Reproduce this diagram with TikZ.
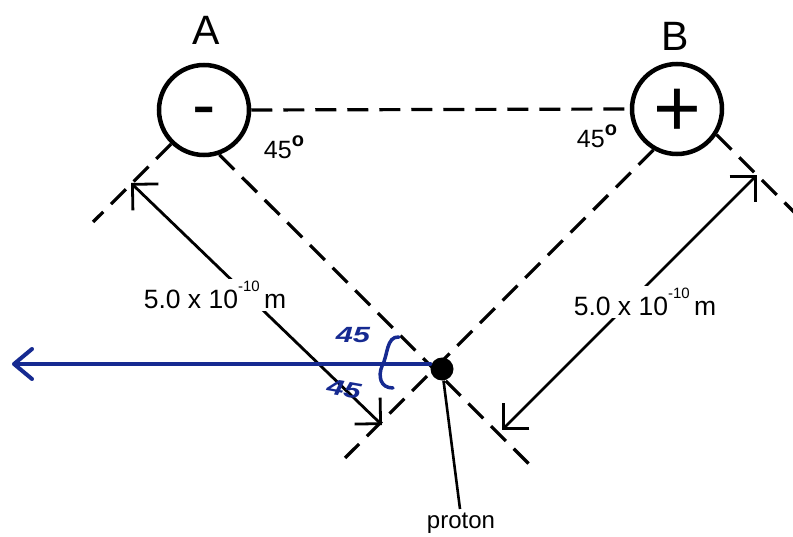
\documentclass[tikz,border=0pt]{standalone}
\usepackage{fontspec}
\setmainfont{Liberation Sans}
\usetikzlibrary{arrows.meta}
\definecolor{ink}{RGB}{22,42,145}
\newcommand\degsign{\raisebox{0.46em}{\fontsize{20}{20}\selectfont\bfseries o}}
\newcommand\dimtext{5.0 x 10\raisebox{0.62em}{\fontsize{15}{15}\selectfont -10}\,m}
\begin{document}
\begin{tikzpicture}[x=1pt,y=-1pt,
  charge/.style={circle,draw,line width=4.5pt,minimum size=90pt,inner sep=0pt},
  sign/.style={anchor=base,inner sep=0pt},
  guide/.style={line width=3.2pt,dash pattern=on 21pt off 11pt},
  dimline/.style={line width=2.8pt,{Straight Barb[angle=90:26pt]}-{Straight Barb[angle=90:26pt]}},
  dimlabel/.style={fill=white,inner sep=2pt,font=\fontsize{26.5}{26.5}\selectfont},
  letter/.style={inner sep=0pt,font=\fontsize{41}{41}\selectfont},
  angle/.style={inner sep=0pt,font=\fontsize{25}{25}\selectfont},
  hand/.style={ink,inner sep=0pt,font=\fontsize{22}{22}\selectfont\bfseries\itshape},
  bluearrow/.style={ink,line width=4pt,line cap=round,-{Straight Barb[length=18pt,width=30pt,line cap=round,line join=round]}}
]
\useasboundingbox (0,0) rectangle (793,537);
% charges
\node[charge] (A) at (204,110) {};
\node[charge] (B) at (677,109) {};
\node[sign,font=\fontsize{70}{70}\selectfont] (minus) at (204,129) {-};
\node[sign,font=\fontsize{82}{82}\selectfont] (plus) at (677,137) {+};
\node[letter] (lA) at (206,30) {A};
\node[letter] (lB) at (675,36) {B};
% angle labels
\node[angle] (ang1) at (284,147) {45\degsign};
\node[angle] (ang2) at (597,136) {45\degsign};
% proton
\node[circle,fill=black,minimum size=23pt,inner sep=0pt] (P) at (442,369) {};
% dashed construction lines
\draw[guide] (A.east) -- (B.west);
\coordinate (a1e) at (531,466);
\coordinate (b1e) at (345,458);
\coordinate (a2e) at (93,222);
\coordinate (b2e) at (795,213);
\draw[guide] (A.-71) -- (a1e);
\draw[guide] (B.-120) -- (b1e);
\draw[guide] (A.-134) -- (a2e);
\draw[guide] (B.-33) -- (b2e);
% dimension arrows
\coordinate (d1s) at (131,183);
\coordinate (d1e) at (382,425);
\coordinate (d2s) at (757,175);
\coordinate (d2e) at (502,430);
\draw[dimline] (d1s) -- (d1e);
\draw[dimline] (d2s) -- (d2e);
\node[dimlabel] (L1) at (215,295) {\dimtext};
\node[dimlabel] (L2) at (645,302) {\dimtext};
% proton label
\coordinate (pl) at (460,509);
\draw[line width=2.6pt] (P) -- (pl);
\node[inner sep=0pt,font=\fontsize{24}{24}\selectfont] (plab) at (461,523) {proton};
% blue annotations
\coordinate (bt) at (12,364);
\draw[bluearrow] ([yshift=5pt]P.west) -- (bt);
\draw[ink,line width=3.5pt,line cap=round] (399,337) .. controls (386,336) and (388,356) .. (382,366) .. controls (378,376) and (380,388) .. (393,388);
\node[hand] (h1) at (353,335) {\scalebox{1.4}[1]{45}};
\node[hand,rotate=-10] (h2) at (344,389) {\scalebox{1.4}[1]{45}};
\end{tikzpicture}
\end{document}
